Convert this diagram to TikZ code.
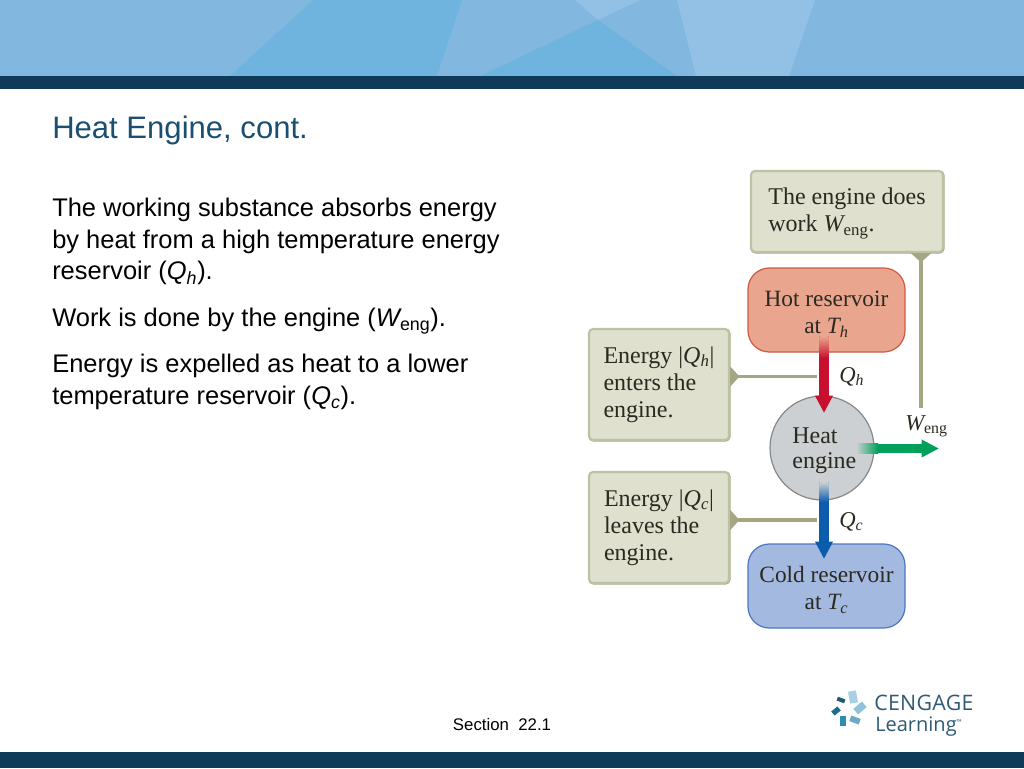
\documentclass[tikz,border=0pt]{standalone}
\usepackage{fontspec}
\setmainfont{Liberation Sans}
\newfontfamily\figfont{Liberation Serif}
\newfontfamily\logofont{Open Sans}
\usetikzlibrary{arrows.meta}
\newcommand{\resstrut}{\rule{0pt}{18pt}}
\newcommand{\lowstrut}{\rule{0pt}{15.5pt}}
\definecolor{navy}{HTML}{0F3A5A}
\definecolor{sky}{HTML}{82B8E0}
\definecolor{skydark}{HTML}{6FB3DF}
\definecolor{skylight}{HTML}{93C0E5}
\definecolor{titleblue}{HTML}{1B4F72}
\definecolor{notefill}{HTML}{DFE0CD}
\definecolor{noteline}{HTML}{BCC3A4}
\definecolor{noteedge}{HTML}{A6AB8A}
\definecolor{tagcol}{HTML}{A6A684}
\definecolor{hotfill}{HTML}{E9A58E}
\definecolor{hotline}{HTML}{CF5A42}
\definecolor{coldfill}{HTML}{A3B9E0}
\definecolor{coldline}{HTML}{4A77C0}
\definecolor{enginefill}{HTML}{CDD0D3}
\definecolor{engineline}{HTML}{85888C}
\definecolor{redflow}{HTML}{C8102E}
\definecolor{blueflow}{HTML}{0B5CAD}
\definecolor{greenflow}{HTML}{00A05A}
\definecolor{figtext}{HTML}{2A2A20}
\definecolor{logotext}{HTML}{2E5A75}
\tikzset{
  bodytext/.style={anchor=north west,align=left,inner sep=0pt,font=\fontsize{19.1}{23.9}\selectfont},
  note/.style={draw=noteline,line width=1.6pt,fill=notefill,rounded corners=3pt,inner sep=0pt,
    preaction={draw=noteedge,line width=1.6pt,transform canvas={xshift=.4pt,yshift=-.4pt}},
    align=left,text=figtext,font=\figfont\fontsize{18}{20.25}\selectfont},
  reservoir/.style={line width=.9pt,rounded corners=16pt,minimum width=117.75pt,minimum height=63pt,
    align=center,text=figtext,font=\figfont\fontsize{17.5}{20.25}\selectfont},
  flow/.style={line width=7pt,-{Triangle[length=13pt,width=12.5pt]}},
  tagline/.style={draw=tagcol,line width=2.4pt,{Triangle[reversed,length=7pt,width=15pt,fill=tagcol]}-},
  flowlabel/.style={text=figtext,inner sep=0pt,font=\figfont\fontsize{17}{20}\selectfont}
}
\begin{document}
\begin{tikzpicture}[x=.75pt,y=-.75pt]
\useasboundingbox (0,0) rectangle (1024,768);
% header and footer
\fill[sky] (0,0) rectangle (1024,76);
\fill[skydark] (313,0) -- (230,76) -- (437,76) -- (462,0) -- cycle;
\fill[skydark] (598,20) -- (480,76) -- (677,76) -- cycle;
\fill[skylight] (575,0) -- (598,20) -- (640,0) -- cycle;
\fill[skylight] (677,0) -- (696,76) -- (789,76) -- (815,0) -- cycle;
\fill[navy] (0,76) rectangle (1024,89);
\fill[navy] (0,752) rectangle (1024,768);
% text
\node[anchor=base west,inner sep=0pt,text=titleblue,font=\fontsize{23.3}{28}\selectfont] (title) at (52,138) {Heat Engine, cont.};
\node[bodytext] (para1) at (52,197.5) {The working substance absorbs energy\\by heat from a high temperature energy\\reservoir ({\itshape Q\textsubscript{h}}).};
\node[bodytext] (para2) at (52,307.5) {Work is done by the engine ({\itshape W}\textsubscript{eng}).};
\node[bodytext] (para3) at (52,353.5) {Energy is expelled as heat to a lower\\temperature reservoir ({\itshape Q\textsubscript{c}}).};
\node[inner sep=0pt,font=\fontsize{12.6}{15}\selectfont] (section) at (502,724) {Section\ \ 22.1};
% diagram
\node[note,minimum width=144pt,minimum height=60.75pt] (workbox) at (847,211.5) {\lowstrut The engine does\\work {\itshape W}\textsubscript{eng}.};
\node[reservoir,draw=hotline,fill=hotfill] (hot) at (826.5,310) {\resstrut Hot reservoir\\at {\itshape T\textsubscript{h}}};
\node[reservoir,draw=coldline,fill=coldfill] (cold) at (826.5,586) {\resstrut Cold reservoir\\at {\itshape T\textsubscript{c}}};
\node[circle,draw=engineline,line width=.9pt,fill=enginefill,minimum size=78pt,inner sep=0pt,align=left,text=figtext,font=\figfont\fontsize{18}{18.75}\selectfont] (engine) at (822,448) {\hspace*{3.5pt}\lowstrut Heat\\\hspace*{3.5pt}engine};
\node[note,minimum width=105pt,minimum height=83.25pt] (enterbox) at (659,384.5) {Energy |{\itshape Q\textsubscript{h}}|\\enters the\\engine.};
\node[note,minimum width=105pt,minimum height=83.25pt] (leavebox) at (659,527.5) {Energy |{\itshape Q\textsubscript{c}}|\\leaves the\\engine.};
\coordinate (qhstart) at (824,336);
\coordinate (qhend) at (824,413);
\coordinate (qcstart) at (824,482);
\coordinate (qcend) at (824,559);
\coordinate (wstart) at (856,448.5);
\coordinate (wend) at (939,448.5);
\coordinate (qhjoin) at (817,376.5);
\coordinate (qcjoin) at (817,520);
\coordinate (wjoin) at (921,408);
\draw[tagline] (enterbox.east |- qhjoin) -- (qhjoin);
\draw[tagline] (leavebox.east |- qcjoin) -- (qcjoin);
\draw[tagline] (wjoin |- workbox.south) -- (wjoin);
\draw[flow,redflow] (qhstart) -- (qhend);
\draw[flow,blueflow] (qcstart) -- (qcend);
\draw[flow,greenflow] (wstart) -- (wend);
\shade[top color=hotfill,bottom color=redflow] (819.3,336) rectangle (828.7,358);
\shade[top color=enginefill,bottom color=blueflow] (819.3,482) rectangle (828.7,502);
\shade[left color=enginefill,right color=greenflow] (856,443.8) rectangle (878,453.2);
\node[flowlabel,anchor=base west] (qhlabel) at (839,382) {\itshape Q\textsubscript{h}};
\node[flowlabel,anchor=base west] (qclabel) at (839,527) {\itshape Q\textsubscript{c}};
\node[flowlabel,anchor=base west] (wlabel) at (905,430) {{\itshape W}\textsubscript{eng}};
% logo
\foreach \px/\py/\rot/\len/\wid/\col [count=\n] in {853/697/10/6/9/A9CFE3,860/708/40/8.5/5.5/8FC3DB,855/720/-20/7.5/4.5/6FA9C4,843/721/0/4.5/7.5/2A8FB0,836/711/40/6/4/1F6D8C,841/700/-20/6/3/1D5A78}{
  \definecolor{petalcol}{HTML}{\col}
  \node[rotate=\rot,fill=petalcol,minimum width=\len pt,minimum height=\wid pt,inner sep=0pt] (petal\n) at (\px,\py) {};
}
\node[anchor=base west,inner sep=0pt,text=logotext,font=\logofont\addfontfeatures{LetterSpace=1.5}\fontsize{16}{18}\selectfont] (cengage) at (874,710) {CENGAGE};
\node[anchor=base west,inner sep=0pt,text=logotext,font=\logofont\fontsize{15}{18}\selectfont] (learning) at (875,731) {Learning\textsuperscript{\tiny ™}};
\end{tikzpicture}
\end{document}
